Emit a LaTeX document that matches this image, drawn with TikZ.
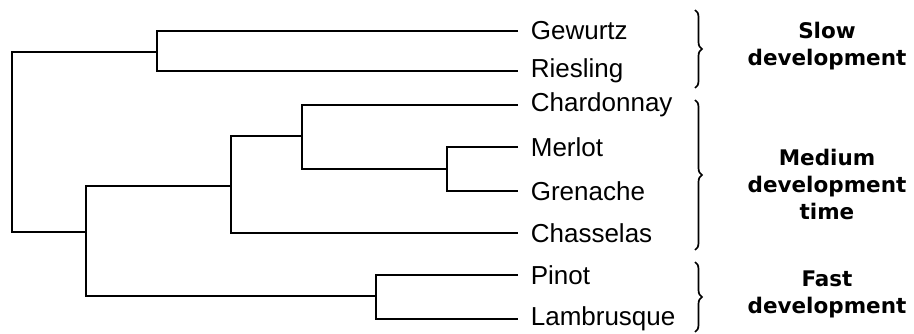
\documentclass[tikz,border=0pt]{standalone}
\usepackage{fontspec}
\usepackage{tikz}
\usetikzlibrary{positioning}
\usetikzlibrary{decorations.pathreplacing}

\newfontfamily\leaffont{Liberation Sans}
\newfontfamily\groupfont{DejaVu Sans}

\begin{document}
\begin{tikzpicture}[x=1pt,y=-1pt,line width=1.7pt,
  leaf/.style={anchor=west,inner xsep=12pt,inner ysep=0pt,font=\leaffont\fontsize{26}{28}\selectfont},
  group/.style={align=center,font=\groupfont\bfseries\fontsize{21.5}{27}\selectfont},
  curly/.style={decorate,decoration={brace,amplitude=7pt}}]

  \useasboundingbox (0,0) rectangle (914,334);

  % leaves
  \node[leaf] (gew) at (518,31) {Gewurtz};
  \node[leaf] (ries) at (518,71) {Riesling};
  \node[leaf] (chard) at (518,105) {Chardonnay};
  \node[leaf] (merl) at (518,147) {Merlot};
  \node[leaf] (gren) at (518,191) {Grenache};
  \node[leaf] (chass) at (518,233) {Chasselas};
  \node[leaf] (pino) at (518,275) {Pinot};
  \node[leaf] (lamb) at (518,319) {Lambrusque};

  % joins
  \coordinate (root) at (12,142);
  \coordinate (j1) at (157,52);
  \coordinate (j2) at (86,232);
  \coordinate (j3) at (231,186);
  \coordinate (j4) at (302,136);
  \coordinate (j5) at (447,169);
  \coordinate (j6) at (376,296);

  \draw (gew.west) -| (j1) |- (ries.west);
  \draw (merl.west) -| (j5) |- (gren.west);
  \draw (chard.west) -| (j4) |- (j5);
  \draw (j4) -| (j3) |- (chass.west);
  \draw (pino.west) -| (j6) |- (lamb.west);
  \draw (j3) -| (j2) |- (j6);
  \draw (j1) -| (root) |- (j2);

  % braces
  \coordinate (s1) at (695,10);
  \coordinate (s2) at (695,88);
  \coordinate (m1) at (695,100);
  \coordinate (m2) at (695,250);
  \coordinate (f1) at (695,262);
  \coordinate (f2) at (695,332);
  \draw[curly] (s1) -- (s2);
  \draw[curly] (m1) -- (m2);
  \draw[curly] (f1) -- (f2);

  \node[group] (slow) at (827,46) {Slow\\development};
  \node[group] (medium) at (827,184) {Medium\\development\\time};
  \node[group] (fast) at (827,294) {Fast\\development};

\end{tikzpicture}
\end{document}
